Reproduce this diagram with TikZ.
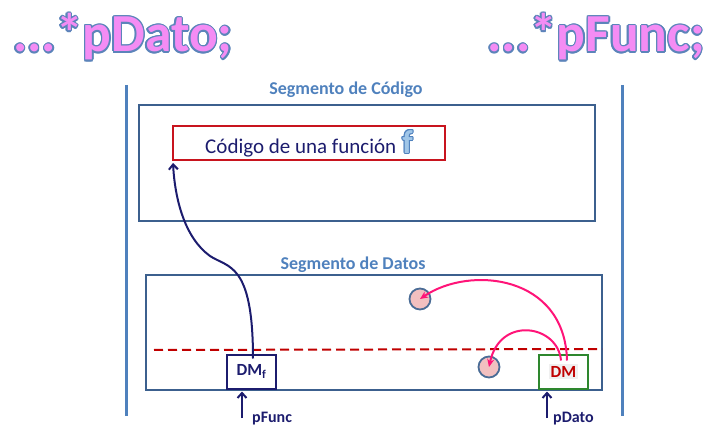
\documentclass[tikz,border=0pt]{standalone}
\usepackage{fontspec}
\setmainfont{Carlito}
\usepackage{tikz}
\usetikzlibrary{arrows.meta,positioning}
\definecolor{segblue}{RGB}{79,129,189}
\definecolor{segedge}{RGB}{60,96,142}
\definecolor{navyink}{RGB}{28,28,110}
\definecolor{funcred}{RGB}{200,20,30}
\definecolor{dashred}{RGB}{192,0,0}
\definecolor{dmgreen}{RGB}{46,135,46}
\definecolor{dmred}{RGB}{192,0,0}
\definecolor{ptrpink}{RGB}{255,20,120}
\definecolor{cellfill}{RGB}{242,192,192}
\definecolor{celledge}{RGB}{74,108,150}
\definecolor{titlepink}{RGB}{244,140,244}
\definecolor{titleedge}{RGB}{92,132,186}
\definecolor{fblue}{RGB}{160,198,232}

\newcommand\outlinetext[4]{%
  \leavevmode\foreach \ang in {0,30,...,330}{%
    \pgfmathsetlengthmacro\odx{#1*cos(\ang)}%
    \pgfmathsetlengthmacro\ody{#1*sin(\ang)}%
    \rlap{\hspace*{\odx}\raisebox{\ody}{\textcolor{#2}{#4}}}}%
  \textcolor{#3}{#4}}

\begin{document}
\begin{tikzpicture}[x=1pt,y=-1pt,
  title/.style={inner sep=0pt,font=\fontsize{53.5}{54}\selectfont\bfseries},
  seglabel/.style={text=segblue,font=\fontsize{18}{20}\selectfont\bfseries},
  segbox/.style={draw=segedge,line width=2.4pt,minimum width=456pt},
  dmbox/.style={draw,line width=2pt,minimum width=49pt,minimum height=34pt,inner sep=0pt,font=\fontsize{17}{19}\selectfont\bfseries},
  cell/.style={circle,draw=celledge,fill=cellfill,line width=1.8pt,minimum size=21pt,inner sep=0pt},
  ptr/.style={ptrpink,line width=2pt,-{Stealth[length=8pt,width=7pt]}},
  navyptr/.style={navyink,line width=2pt,-{Straight Barb[length=5pt,width=9pt]}},
  ptrlabel/.style={text=navyink,font=\fontsize{16}{18}\selectfont\bfseries,anchor=base west,inner sep=0pt}]
  \useasboundingbox (0,0) rectangle (716,433);
  \node[title,anchor=base west] (tdato) at (13,52) {\outlinetext{1.5pt}{titleedge}{titlepink}{...*pDato;}};
  \node[title,anchor=base east] (tfunc) at (705,52) {\outlinetext{1.5pt}{titleedge}{titlepink}{...*pFunc;}};
  \draw[segblue,line width=3pt] (126,85) -- (126,416);
  \draw[segblue,line width=3pt] (622,85) -- (622,416);
  \node[seglabel] (codlabel) at (346,90) {Segmento de Código};
  \node[segbox,minimum height=116pt] (codseg) at (367,163) {};
  \node[draw=funcred,line width=2pt,minimum width=272pt,minimum height=34pt,inner sep=0pt,text=navyink,font=\fontsize{21}{24}\selectfont] (fbox) at (309,143) {Código de una función\hspace{6pt}\outlinetext{1pt}{segblue}{fblue}{\fontsize{33}{33}\selectfont\bfseries f}};
  \node[seglabel] (datlabel) at (353,265) {Segmento de Datos};
  \node[segbox,minimum height=115pt] (datseg) at (374,332.5) {};
  \coordinate (dashl) at (154,350);
  \coordinate (dashr) at (602,349);
  \draw[dashred,line width=2pt,dash pattern=on 9pt off 5pt] (dashl) -- (dashr);
  \node[dmbox,draw=navyink,text=navyink] (dmf) at (251.5,371.5) {DM\textsubscript{f}};
  \node[dmbox,draw=dmgreen,text=dmred] (dm) at (563.5,371.5) {\setlength\fboxsep{1.5pt}\colorbox{gray!12}{DM}};
  \node[cell] (cella) at (420,299) {};
  \node[cell] (cellb) at (489,367) {};
  \draw[ptr] ([xshift=3.5pt,yshift=-7pt]dm.north) .. controls (565,275) and (470,265) .. (cella.center);
  \draw[ptr] ([xshift=-2.5pt,yshift=-7pt]dm.north) .. controls (558,325) and (500,315) .. (cellb.center);
  \draw[navyptr] ([xshift=1.5pt,yshift=-5pt]dmf.north) .. controls (253,262) and (228,268) .. (210,256) .. controls (185,238) and (175,200) .. ([shift={(1,2)}]fbox.south west);
  \coordinate (pfuncfoot) at (242,418);
  \coordinate (pdatofoot) at (547,418);
  \draw[navyptr,shorten >=2pt] (pfuncfoot) -- (pfuncfoot |- dmf.south);
  \draw[navyptr,shorten >=2pt] (pdatofoot) -- (pdatofoot |- dm.south);
  \node[ptrlabel] (pfunclabel) at (252,422) {pFunc};
  \node[ptrlabel] (pdatolabel) at (553,422) {pDato};
\end{tikzpicture}
\end{document}
